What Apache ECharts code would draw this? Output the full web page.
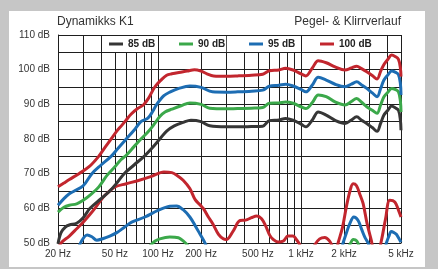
<!DOCTYPE html>
<html>
<head>
<meta charset="utf-8">
<script src="https://cdn.jsdelivr.net/npm/echarts@6/dist/echarts.min.js"></script>
<style>
  html, body { margin: 0; padding: 0; }
  body { width: 438px; height: 269px; background: #c6c6c6; position: relative; overflow: hidden; }
  #card { position: absolute; left: 9px; top: 11px; width: 416px; height: 256px; background: #fff; }
  #chart { position: absolute; left: 0; top: 0; width: 438px; height: 269px; }
</style>
</head>
<body>
<div id="card"></div>
<div id="chart"></div>
<script>
// frequency grid and labels (Hz)
const gridFreqs = [20, 30, 40, 50, 60, 70, 80, 90, 100, 200, 300, 400, 500, 600, 700, 800, 900, 1000, 2000, 3000, 4000, 5000]
const labelFreqs = [20, 50, 100, 200, 500, 1000, 2000, 5000]
const legendNames = ['85 dB', '90 dB', '95 dB', '100 dB']

// Pegel (level) curves
const level100Freq = [20, 22, 24, 28, 33, 38.5, 43, 47, 52, 56, 60, 65, 72, 79, 86, 95, 105, 115, 125, 140, 160, 180, 200, 220, 245, 300, 360, 450, 540, 600, 700, 780, 880, 1000, 1080, 1200, 1320, 1500, 1730, 2030, 2250, 2450, 2650, 2880, 3150, 3400, 3600, 3800, 4050, 4300, 4550, 4800, 4950, 5000]
const level100 = [66.2, 67.3, 68.3, 70, 72, 75, 77.8, 80, 82.5, 84, 85.5, 87.2, 88.8, 89.8, 91.8, 95, 97, 98.4, 98.8, 99.2, 99.6, 100, 99.6, 98.8, 98.2, 98.1, 98.2, 98.4, 98.7, 99.7, 99.9, 100.4, 99.9, 98.8, 98.2, 100.5, 102.6, 102, 100.8, 99.9, 100.5, 101, 100.3, 99.4, 98.3, 97.3, 99.5, 101.5, 103, 104.2, 103.8, 103, 100.5, 98]

const level95Freq = [20, 22, 24, 26, 30, 34.5, 40, 47, 53, 60, 68, 76, 85, 92, 98, 110, 122, 140, 167, 200, 240, 300, 360, 450, 540, 600, 700, 780, 880, 1000, 1080, 1200, 1320, 1500, 1730, 2030, 2250, 2450, 2650, 2880, 3150, 3400, 3600, 3800, 4050, 4300, 4550, 4800, 4950, 5000]
const level95 = [60.9, 62.8, 64.2, 65, 66.5, 70, 72.5, 75, 77.5, 80, 82.5, 85, 86, 88, 90, 92.5, 93.6, 94.6, 95.3, 94.9, 93.6, 93.5, 93.6, 93.8, 94.1, 95.2, 95.5, 95.8, 95.3, 94.3, 93.6, 95.6, 97.8, 97, 95.8, 95.1, 95.8, 96.5, 95.6, 94.6, 93.3, 92.2, 94.5, 97, 98.5, 99.6, 99.3, 98.6, 96, 92.7]

const level90Freq = [20, 22, 24, 27, 30, 34, 38.6, 44, 50, 55, 60, 68, 76, 85, 95, 103, 112, 125, 145, 167, 200, 230, 300, 360, 450, 540, 600, 700, 780, 880, 1000, 1080, 1200, 1320, 1500, 1730, 2030, 2250, 2450, 2650, 2880, 3150, 3400, 3600, 3800, 4050, 4300, 4550, 4800, 4950, 5000]
const level90 = [58.9, 60.3, 60.9, 61.3, 62.3, 64, 66.2, 69.5, 72, 74, 75.3, 77.8, 80, 82, 84.5, 86.5, 87.8, 88.6, 89.6, 90.4, 90, 88.9, 88.7, 88.8, 88.9, 89.1, 90.3, 90.4, 90.7, 90.3, 89.3, 88.8, 90.5, 92.7, 92.2, 90.7, 89.8, 90.8, 91.7, 90.6, 89.3, 88.3, 87.4, 89.8, 92.2, 93.5, 94.6, 94.3, 93.6, 91, 87.8]

const level85Freq = [20, 21, 22.5, 24, 27, 30, 33.5, 40, 46, 52, 58, 68, 80, 90, 103, 115, 130, 150, 170, 200, 230, 300, 360, 450, 540, 600, 700, 780, 880, 1000, 1080, 1200, 1320, 1500, 1730, 2030, 2250, 2450, 2650, 2880, 3150, 3400, 3600, 3800, 4050, 4300, 4550, 4800, 4950, 5000]
const level85 = [49.8, 53, 54.6, 55.2, 55.7, 57.3, 60, 62.8, 65, 67.5, 70, 72.5, 75, 77.2, 80, 82.3, 83.8, 84.8, 85.4, 85, 83.8, 83.5, 83.5, 83.6, 83.7, 85.3, 85.5, 85.9, 85.4, 84.3, 83.5, 85.5, 87.8, 86.9, 85.4, 84.5, 85.5, 86.4, 85.4, 84.5, 83.3, 82.2, 84.5, 86.9, 88.3, 89.5, 89, 88.3, 85.5, 82.5]

// Klirr (distortion) curves, values under 50 dB run out of the frame
const dist100Freq = [20, 21, 24, 27, 30, 33.4, 37, 41.5, 46, 50, 60, 74, 90, 110, 125, 136, 150, 167, 182, 197, 208, 225, 242, 265, 286, 300, 337, 375, 410, 450, 490, 530, 565, 605, 640, 690, 753, 811, 880, 928, 980, 1050, 1150, 1250, 1350, 1466, 1580, 1680, 1760, 1816, 1950, 2076, 2200, 2312, 2438, 2580, 2716, 2900, 3104, 3250, 3450, 3646, 3900, 4176, 4526, 4800, 5000]
const dist100 = [48, 50, 52, 54.1, 56, 58.2, 60.5, 63.3, 65, 66.2, 67.1, 68.1, 69.2, 70.5, 70.3, 69.5, 68.1, 65.7, 62.5, 61, 59.9, 57.5, 55.5, 52.5, 51.2, 51, 53.6, 56.5, 56.6, 57.3, 57.8, 57, 55, 52.2, 51, 50.3, 50.6, 52, 52, 51, 49.5, 47, 46, 49.5, 51.2, 51.6, 50.6, 48.5, 47.5, 50, 54.5, 60.5, 65, 67.1, 66.6, 64, 61.4, 55.5, 50.7, 47.5, 47.5, 50.7, 57, 62.3, 61.8, 59.5, 57.5]

const dist95Freq = [27, 29, 32, 34.5, 37.3, 41.5, 46, 51.5, 58, 65.5, 81, 100, 121, 135, 150, 167, 182, 197, 210, 222, 240, 1850, 1968, 2080, 2193, 2340, 2507, 2650, 2792, 2944, 3100, 3800, 3952, 4100, 4282, 4460, 4640, 4850, 5000]
const dist95 = [47, 50.3, 52.3, 51.8, 50.8, 51.3, 52, 53, 54.5, 56, 57.5, 59.4, 60.6, 60.7, 59.6, 57.5, 55, 52.5, 50.5, 48.5, 46, 46, 50, 53, 55.6, 57.5, 56.5, 54, 51.7, 50, 47.5, 47.5, 50, 51.8, 53.3, 53, 52.5, 51.2, 50.2]

const dist90Freq = [85, 95, 103, 121, 139, 150, 160, 172, 2100, 2200, 2320, 2450, 2580]
const dist90 = [48.5, 50.5, 51.2, 51.7, 51.5, 50.6, 49.5, 48, 48, 49.6, 51, 50.6, 48.5]

const toLog = f => Math.log10(f)
function curve(freqs, levels) {
  return freqs.map((f, i) => [toLog(f), levels[i]])
}

const font = 'Liberation Sans, Arial, sans-serif'
const gridColor = '#1e1e1e'
const colors = { '85 dB': '#363636', '90 dB': '#3ba84a', '95 dB': '#1d6db3', '100 dB': '#c2262e' }

function lineSeries(name, data, z) {
  return {
    name: name,
    type: 'line',
    data: data,
    smooth: 0.35,
    symbol: 'none',
    clip: true,
    z: z,
    lineStyle: { color: colors[name], width: 3 },
    itemStyle: { color: colors[name] },
    emphasis: { disabled: true }
  }
}

const legendLeft = [103, 173, 243, 314]

const chart = echarts.init(document.getElementById('chart'))
chart.setOption({
  animation: false,
  backgroundColor: 'transparent',
  title: [
    { text: 'Dynamikks K1', left: 57, top: 16, padding: 0,
      textStyle: { fontSize: 12, fontWeight: 'normal', color: '#333', fontFamily: font } },
    { text: 'Pegel- & Klirrverlauf', right: 37, top: 16, padding: 0,
      textStyle: { fontSize: 12, fontWeight: 'normal', color: '#333', fontFamily: font } }
  ],
  legend: legendNames.map((name, i) => ({
    data: [name],
    left: legendLeft[i],
    top: 36,
    icon: 'rect',
    itemWidth: 14,
    itemHeight: 3,
    padding: [2, 1, 2, 6],
    backgroundColor: '#fff',
    selectedMode: false,
    textStyle: { fontSize: 10, fontWeight: 'bold', color: '#222', fontFamily: font, lineHeight: 12 }
  })),
  grid: { left: 58, top: 35, right: 37, bottom: 26 },
  xAxis: {
    type: 'value',
    min: toLog(20),
    max: toLog(5000),
    axisLine: { show: true, lineStyle: { color: gridColor, width: 1 } },
    axisTick: { show: false, customValues: gridFreqs.map(toLog) },
    splitLine: { show: true, lineStyle: { color: gridColor, width: 1 } },
    axisLabel: {
      customValues: labelFreqs.map(toLog),
      formatter: function (v) {
        const f = Math.round(Math.pow(10, v))
        return f >= 1000 ? (f / 1000) + ' kHz' : f + ' Hz'
      },
      fontSize: 10, color: '#333', margin: 6, fontFamily: font
    }
  },
  yAxis: {
    type: 'value',
    min: 50,
    max: 110,
    interval: 5,
    axisLine: { show: true, lineStyle: { color: gridColor, width: 1 } },
    axisTick: { show: false },
    splitLine: { show: true, lineStyle: { color: gridColor, width: 1 } },
    axisLabel: {
      formatter: v => (v % 10 === 0 ? v + ' dB' : ''),
      fontSize: 10, color: '#333', margin: 8, fontFamily: font
    }
  },
  series: [
    lineSeries('85 dB', curve(level85Freq, level85), 3),
    lineSeries('90 dB', curve(level90Freq, level90), 3),
    lineSeries('95 dB', curve(level95Freq, level95), 3),
    lineSeries('100 dB', curve(level100Freq, level100), 3),
    lineSeries('90 dB', curve(dist90Freq, dist90), 2),
    lineSeries('95 dB', curve(dist95Freq, dist95), 2),
    lineSeries('100 dB', curve(dist100Freq, dist100), 2)
  ]
})
</script>
</body>
</html>
